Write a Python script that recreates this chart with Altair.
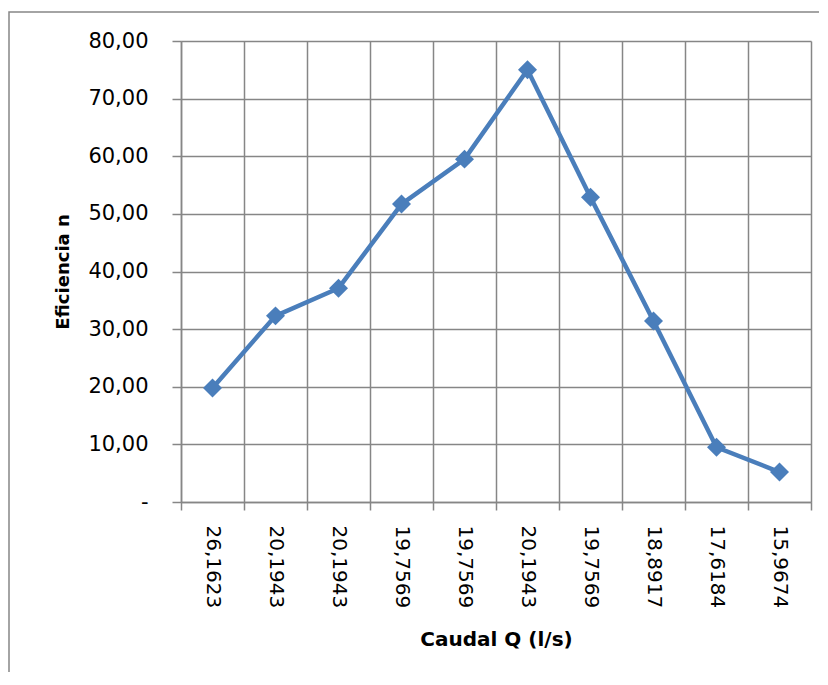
import altair as alt
import pandas as pd

caudal_labels = ["26,1623", "20,1943", "20,1943", "19,7569", "19,7569",
                 "20,1943", "19,7569", "18,8917", "17,6184", "15,9674"]
eficiencia = [19.8, 32.3, 37.1, 51.7, 59.5, 75.0, 52.9, 31.4, 9.5, 5.2]
y_ticks = [0, 10, 20, 30, 40, 50, 60, 70, 80]

df = pd.DataFrame({"idx": list(range(len(eficiencia))), "eff": eficiencia})

label_arr = "[" + ",".join("'%s'" % s for s in caudal_labels) + "]"

GRID = "#868686"
BLUE = "#4A7EBB"
FONT = "DejaVu Sans"

x_enc = alt.X(
    "idx:O",
    bandPosition=0.5,
    scale=alt.Scale(type="band", paddingInner=0, paddingOuter=0),
    axis=alt.Axis(
        title="Caudal Q (l/s)",
        labelExpr=label_arr + "[datum.value]",
        labelAngle=90,
        labelAlign="left",
        labelBaseline="middle",
        labelFontSize=20,
        tickBand="extent",
        tickSize=8,
        labelPadding=15,
        titlePadding=22,
        titleFontSize=20,
    ),
)
y_enc = alt.Y(
    "eff:Q",
    scale=alt.Scale(domain=[0, 80], nice=False, zero=True),
    axis=alt.Axis(
        title="Eficiencia n",
        values=y_ticks,
        labelExpr="datum.value == 0 ? '-' : replace(format(datum.value, '.2f'), '.', ',')",
        labelFontSize=21,
        tickSize=9,
        labelPadding=24,
        titlePadding=15,
        titleFontSize=18,
    ),
)

line = alt.Chart(df).mark_line(
    color=BLUE, strokeWidth=4.5,
    point=alt.OverlayMarkDef(shape="diamond", size=360, filled=True, color=BLUE, opacity=1),
).encode(x=x_enc, y=y_enc)

border = alt.Chart(pd.DataFrame({"a": [0]})).mark_rect(
    fillOpacity=0, stroke=GRID, strokeWidth=1.5, clip=False
).encode(
    x=alt.value(-172), x2=alt.value(700),
    y=alt.value(-29), y2=alt.value(700),
)

chart = alt.layer(border, line).properties(
    width=630, height=461,
    autosize=alt.AutoSizeParams(type="none"),
    padding={"left": 173, "top": 33, "right": 8, "bottom": 170},
).configure_view(
    stroke=None
).configure_axis(
    gridColor=GRID, gridWidth=1.5, gridOpacity=1,
    domainColor=GRID, domainWidth=1.5,
    tickColor=GRID, tickWidth=1.5,
    labelColor="black", labelFont=FONT,
    titleColor="black", titleFont=FONT, titleFontWeight="bold",
    grid=True,
)

chart.save("out.html", embed_options={"renderer": "svg", "actions": False})
